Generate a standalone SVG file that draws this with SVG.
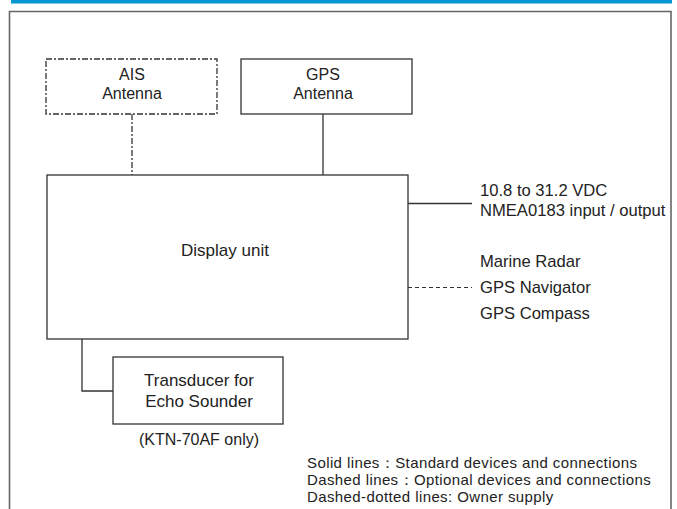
<svg xmlns="http://www.w3.org/2000/svg" width="677" height="509" viewBox="0 0 677 509">
<style>
text{font-family:"Liberation Sans",Arial,sans-serif;font-size:17px;fill:#222;}
.c{text-anchor:middle;}
.a{font-size:16px;}
.r{font-size:16.6px;}
.lg{font-size:15px;letter-spacing:0.4px;}
.box{fill:none;stroke:#333;stroke-width:1.3;}
.dd{fill:none;stroke:#333;stroke-width:1.3;stroke-dasharray:6 2 2 2;}
.ln{fill:none;stroke:#333;stroke-width:1.3;}
.ds{fill:none;stroke:#333;stroke-width:1.1;stroke-dasharray:4 3;}
</style>
<rect x="11" y="0" width="661" height="3.5" fill="#0096d2"/>
<path d="M9.5 509 V11.5 H671 V509" fill="none" stroke="#666" stroke-width="1.6"/>
<g id="connectors">
<line class="dd" x1="132" y1="114" x2="132" y2="175"/>
<line class="ln" x1="323" y1="114" x2="323" y2="175"/>
<line class="ln" x1="408" y1="203.5" x2="472" y2="203.5"/>
<line class="ds" x1="408" y1="287.5" x2="472" y2="287.5"/>
<polyline class="ln" points="82,339 82,391 113,391"/>
</g>
<g id="ais">
<rect class="dd" x="46" y="59" width="171" height="55"/>
<text class="c a" x="132" y="80">AIS</text>
<text class="c a" x="132" y="99">Antenna</text>
</g>
<g id="gps">
<rect class="box" x="241" y="59" width="171" height="55"/>
<text class="c a" x="323" y="80">GPS</text>
<text class="c a" x="323" y="99">Antenna</text>
</g>
<g id="display">
<rect class="box" x="47" y="175" width="361" height="164"/>
<text class="c" x="225" y="256">Display unit</text>
</g>
<g id="transducer">
<rect class="box" x="113" y="357" width="170" height="67"/>
<text class="c" x="199" y="386">Transducer for</text>
<text class="c" x="199" y="407">Echo Sounder</text>
<text class="c a" x="199" y="445">(KTN-70AF only)</text>
</g>
<g id="power">
<text class="r" x="480" y="196">10.8 to 31.2 VDC</text>
<text class="r" x="480" y="216">NMEA0183 input / output</text>
</g>
<g id="external">
<text class="r" x="480" y="267">Marine Radar</text>
<text class="r" x="480" y="293">GPS Navigator</text>
<text class="r" x="480" y="319">GPS Compass</text>
</g>
<g id="legend">
<text class="lg" x="307" y="468">Solid lines：Standard devices and connections</text>
<text class="lg" x="307" y="485">Dashed lines：Optional devices and connections</text>
<text class="lg" x="307" y="502">Dashed-dotted lines: Owner supply</text>
</g>
</svg>
